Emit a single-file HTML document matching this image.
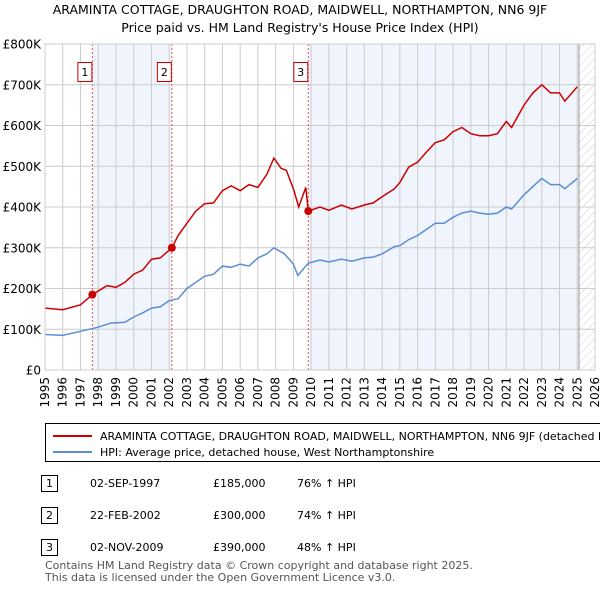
<!DOCTYPE html>
<html><head><meta charset="utf-8"><style>
body{margin:0;background:#fff;font-family:"Liberation Sans","DejaVu Sans",sans-serif;}
svg text{font-family:"DejaVu Sans","Liberation Sans",sans-serif;}
</style></head><body>
<svg width="600" height="590" viewBox="0 0 600 590">
<defs><pattern id="hatch" width="6" height="6" patternUnits="userSpaceOnUse" patternTransform="rotate(45)"><line x1="0" y1="0" x2="0" y2="6" stroke="#ccc" stroke-width="1"/></pattern></defs>
<text x="300" y="14" text-anchor="middle" font-size="12.5">ARAMINTA COTTAGE, DRAUGHTON ROAD, MAIDWELL, NORTHAMPTON, NN6 9JF</text>
<text x="300" y="32" text-anchor="middle" font-size="12.5">Price paid vs. HM Land Registry's House Price Index (HPI)</text>
<g id="plot"></g>
<g>
<rect x="45.5" y="423.5" width="560" height="38" fill="#fff" stroke="#000"/>
<line x1="53" y1="436" x2="92" y2="436" stroke="#cc0000" stroke-width="2"/>
<text x="100" y="440" font-size="11">ARAMINTA COTTAGE, DRAUGHTON ROAD, MAIDWELL, NORTHAMPTON, NN6 9JF (detached hous</text>
<line x1="53" y1="452" x2="92" y2="452" stroke="#5b8fd4" stroke-width="2"/>
<text x="100" y="456" font-size="11">HPI: Average price, detached house, West Northamptonshire</text>
</g>
<g font-size="11">
<rect x="41.5" y="475.5" width="16" height="16" fill="#fff" stroke="#000"/><text x="49.5" y="487" text-anchor="middle">1</text>
<text x="90" y="487">02-SEP-1997</text><text x="213" y="487">£185,000</text><text x="297" y="487">76% ↑ HPI</text>
<rect x="41.5" y="507.5" width="16" height="16" fill="#fff" stroke="#000"/><text x="49.5" y="519" text-anchor="middle">2</text>
<text x="90" y="519">22-FEB-2002</text><text x="213" y="519">£300,000</text><text x="297" y="519">74% ↑ HPI</text>
<rect x="41.5" y="539.5" width="16" height="16" fill="#fff" stroke="#000"/><text x="49.5" y="551" text-anchor="middle">3</text>
<text x="90" y="551">02-NOV-2009</text><text x="213" y="551">£390,000</text><text x="297" y="551">48% ↑ HPI</text>
</g>
<text x="45" y="569" font-size="11" fill="#555">Contains HM Land Registry data © Crown copyright and database right 2025.</text>
<text x="45" y="581" font-size="11" fill="#555">This data is licensed under the Open Government Licence v3.0.</text>
</svg>
<script>
const hpiYears=[1995,1996,1997,1998,1998.7,1999.5,2000,2000.5,2001,2001.5,2002,2002.5,2003,2003.5,2004,2004.5,2005,2005.5,2006,2006.5,2007,2007.5,2007.9,2008.5,2009,2009.25,2009.84,2010.5,2011,2011.7,2012.3,2013,2013.5,2014,2014.7,2015,2015.5,2016,2016.5,2017,2017.5,2018,2018.5,2019,2019.5,2020,2020.5,2021,2021.3,2022,2022.5,2023,2023.5,2024,2024.3,2025];
const hpiValues=[87,85,95,105,115,117,130,140,152,155,170,175,200,215,230,235,255,252,260,255,275,285,300,285,260,232,262,270,265,272,267,275,277,285,303,305,320,330,345,360,360,375,385,390,385,382,385,400,395,430,450,470,455,455,445,470];
const priceYears=[1995,1996,1997,1997.67,1998.5,1999,1999.5,2000,2000.5,2001,2001.5,2002.15,2002.5,2003,2003.5,2004,2004.5,2005,2005.5,2006,2006.5,2007,2007.5,2007.9,2008.3,2008.6,2009,2009.3,2009.7,2009.84,2010.5,2011,2011.7,2012.3,2013,2013.5,2014,2014.7,2015,2015.5,2016,2016.5,2017,2017.5,2018,2018.5,2019,2019.5,2020,2020.5,2021,2021.3,2022,2022.5,2023,2023.5,2024,2024.3,2025];
const priceValues=[152,148,160,185,207,203,215,235,245,272,275,300,330,360,390,408,410,440,452,440,455,448,480,520,495,490,445,400,448,390,400,392,405,395,405,410,425,445,460,498,510,535,558,565,585,595,580,575,575,580,610,595,650,680,700,680,680,660,695];
const saleYears=[1997.67,2002.15,2009.84];
const saleValues=[185,300,390];
const saleLabels=["1","2","3"];
const yTicks=[0,100,200,300,400,500,600,700,800];
const yTickLabels=["£0","£100K","£200K","£300K","£400K","£500K","£600K","£700K","£800K"];
const xTicks=[1995,1996,1997,1998,1999,2000,2001,2002,2003,2004,2005,2006,2007,2008,2009,2010,2011,2012,2013,2014,2015,2016,2017,2018,2019,2020,2021,2022,2023,2024,2025,2026];
const X0=45,X1=595,Y0=370,Y1=44;
const xs=y=>X0+(y-1995)/(2026-1995)*(X1-X0);
const ys=v=>Y0-v/800*(Y0-Y1);
const NS="http://www.w3.org/2000/svg";
const g=document.getElementById('plot');
function mk(t,a,p){const e=document.createElementNS(NS,t);for(const k in a)e.setAttribute(k,a[k]);(p||g).appendChild(e);return e;}
let e;
e=mk('rect',{x:X0,y:Y1,width:X1-X0,height:Y0-Y1,fill:'#fff'});


e=mk('rect',{x:xs(saleYears[0]),y:Y1,width:xs(saleYears[1])-xs(saleYears[0]),height:Y0-Y1,fill:'#f0f4fc'});


e=mk('rect',{x:xs(saleYears[2]),y:Y1,width:xs(2025.1)-xs(saleYears[2]),height:Y0-Y1,fill:'#f0f4fc'});


e=mk('rect',{x:xs(2025.1),y:Y1,width:X1-xs(2025.1),height:Y0-Y1,fill:'url(#hatch)'});


xTicks.forEach(t=>{
 e=mk('line',{x1:xs(t),x2:xs(t),y1:Y1,y2:Y0,stroke:'#ccc','stroke-width':1});
 
 
 e=mk('text',{x:0,y:0,'font-size':12,'text-anchor':'end',transform:`translate(${xs(t)+4},${Y0+7}) rotate(-90)`});
 e.textContent=t;
 
 
});
yTicks.forEach((t,i)=>{
 e=mk('line',{x1:X0,x2:X1,y1:ys(t),y2:ys(t),stroke:'#ccc','stroke-width':1});
 
 
 e=mk('text',{x:X0-4,y:ys(t)+4.5,'font-size':12,'text-anchor':'end'});
 e.textContent=yTickLabels[i];
 
 
});
e=mk('line',{x1:xs(2025.1),x2:xs(2025.1),y1:Y1,y2:Y0,stroke:'#999','stroke-width':1});


saleYears.forEach((s,i)=>{
 e=mk('line',{x1:xs(s),x2:xs(s),y1:Y1,y2:Y0,stroke:'#e55','stroke-width':1,'stroke-dasharray':'2,2'});
 
 
 e=mk('rect',{x:xs(s)-14.5,y:62.5,width:14,height:19,fill:'#fff',stroke:'#cc0000'});
 
 
 e=mk('text',{x:xs(s)-7.5,y:76,'font-size':11,'text-anchor':'middle'});
 e.textContent=saleLabels[i];
 
 
});
e=mk('path',{d:hpiYears.map((y,i)=>(i?'L':'M')+xs(y).toFixed(1)+','+ys(hpiValues[i]).toFixed(1)).join(''),fill:'none',stroke:'#5b8fd4','stroke-width':1.5});


e=mk('path',{d:priceYears.map((y,i)=>(i?'L':'M')+xs(y).toFixed(1)+','+ys(priceValues[i]).toFixed(1)).join(''),fill:'none',stroke:'#cc0000','stroke-width':1.5});


saleYears.forEach((s,i)=>{
 e=mk('circle',{cx:xs(s),cy:ys(saleValues[i]),r:4,fill:'#cc0000'});
 
 
});
e=mk('rect',{x:X0,y:Y1,width:X1-X0,height:Y0-Y1,fill:'none',stroke:'#ccc'});


</script>
</body></html>
